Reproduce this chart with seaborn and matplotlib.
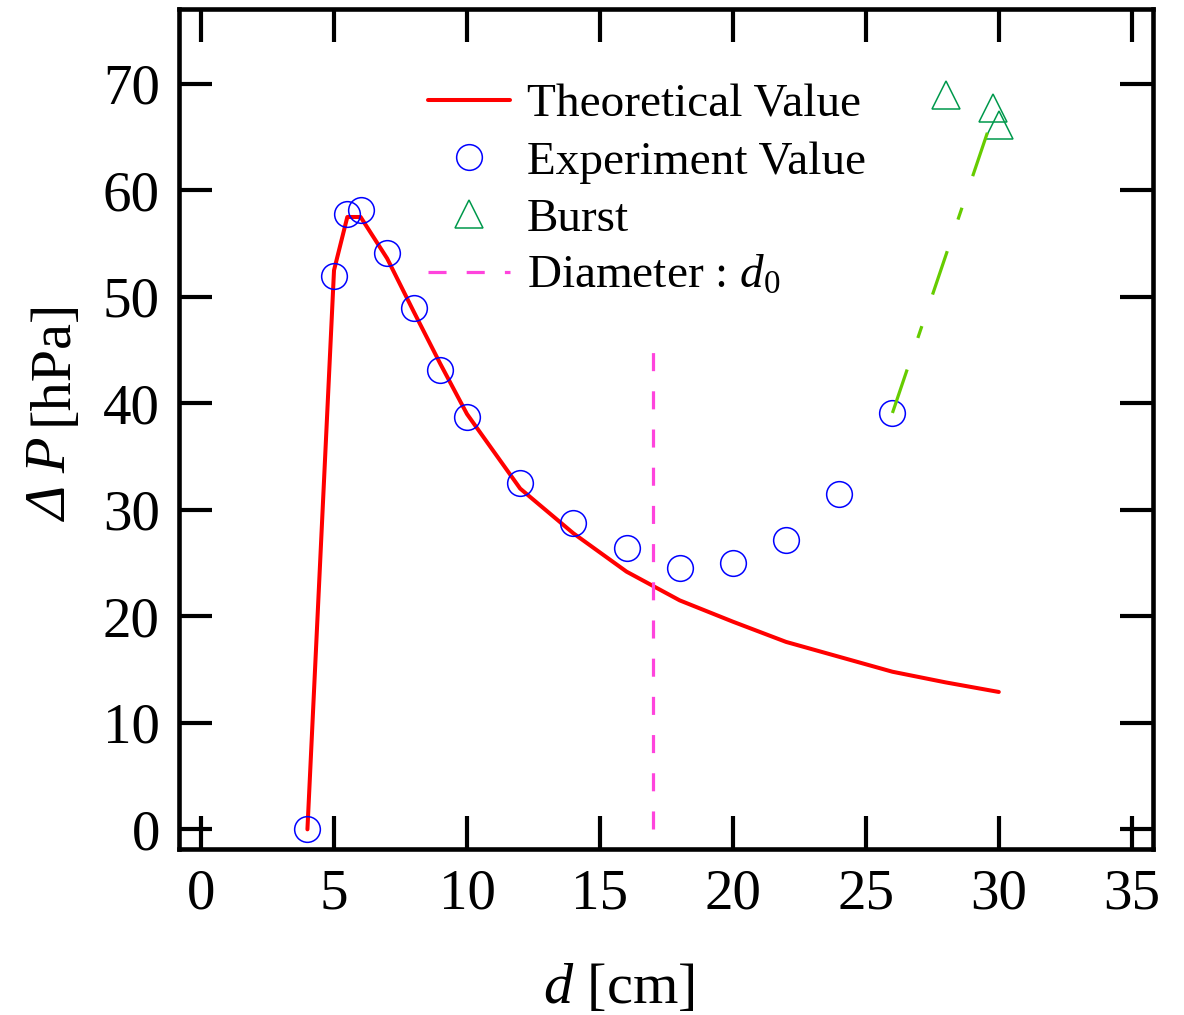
import numpy as np
import pandas as pd
import matplotlib
matplotlib.use("Agg")
import matplotlib.pyplot as plt
import seaborn as sns

# data
d_theory = [4, 5, 5.5, 6, 7, 8, 9, 10, 12, 14, 16, 18, 20, 22, 24, 26, 28, 30]
dp_theory = [0, 52.5, 57.5, 57.5, 53.6, 48.6, 43.7, 39.0, 32.0, 27.8, 24.2,
             21.5, 19.5, 17.6, 16.2, 14.8, 13.8, 12.9]

d_exp = [4, 5, 5.5, 6, 7, 8, 9, 10, 12, 14, 16, 18, 20, 22, 24, 26]
dp_exp = [0, 52.0, 57.8, 58.2, 54.1, 49.0, 43.1, 38.7, 32.5, 28.8, 26.4,
          24.5, 25.0, 27.2, 31.5, 39.1]

d_burst = [28.0, 29.8, 30.0]
dp_burst = [69.0, 67.7, 66.1]

d_trend = [26.0, 29.65]
dp_trend = [39.1, 66.0]

d0 = 17
d0_span = [0, 45]

sns.set_style("ticks")
plt.rcParams["font.family"] = ["Liberation Serif", "DejaVu Serif"]
plt.rcParams["mathtext.fontset"] = "custom"
plt.rcParams["mathtext.rm"] = "Liberation Serif"
plt.rcParams["mathtext.it"] = "Liberation Serif:italic"
plt.rcParams["lines.scale_dashes"] = False
for k in ["text.color", "axes.labelcolor", "xtick.color", "ytick.color",
          "axes.edgecolor"]:
    plt.rcParams[k] = "black"

fig = plt.figure(figsize=(11.84, 10.15), dpi=100)
ax = fig.add_axes([0.1514, 0.1635, 0.8220, 0.8273])

sns.lineplot(x=d_theory, y=dp_theory, color="#ff0000", lw=2.9,
             errorbar=None, sort=False, ax=ax, label="Theoretical Value")
sns.lineplot(x=d_exp, y=dp_exp, color="#0000ff", linestyle="", marker="o",
             markersize=18.5, markerfacecolor="none", mec="#0000ff", mew=1.1,
             errorbar=None, ax=ax, label="Experiment Value")
sns.lineplot(x=d_burst, y=dp_burst, color="#00994c", linestyle="", marker="^",
             markersize=19.5, markerfacecolor="none", mec="#00994c", mew=1.1,
             errorbar=None, ax=ax, label="Burst")
sns.lineplot(x=d_trend, y=dp_trend, color="#66cc00", lw=2.3,
             linestyle=(0, (33, 24, 9, 24)), errorbar=None, ax=ax)
ax.plot([d0, d0], d0_span, color="#ff44dd", lw=2.3,
        linestyle=(0, (13, 14.5)), label=r"Diameter : $\mathit{d_0}$")

lines = ax.get_lines()
handles = [lines[0], lines[1], lines[2], lines[4]]
labels = ["Theoretical Value", "Experiment Value", "Burst",
          r"Diameter : $\mathit{d_0}$"]
ax.legend(handles, labels, loc="upper left",
          bbox_to_anchor=(0.3615, 0.918), bbox_transform=fig.transFigure,
          frameon=False, fontsize=34, handlelength=1.74, handletextpad=0.35,
          labelspacing=0.3, borderpad=0, borderaxespad=0)

ax.set_xlim(-0.82, 35.78)
ax.set_ylim(-1.85, 77)
ax.set_xticks(np.arange(0, 36, 5))
ax.set_yticks(np.arange(0, 71, 10))
ax.tick_params(direction="in", length=24, width=3, top=True, right=True,
               pad=14, labelsize=41, colors="black")
for s in ax.spines.values():
    s.set_linewidth(3.3)
    s.set_color("black")

# axis labels
ax.text(0.4518, -0.1835, r"$\mathit{d}$ [cm]", transform=ax.transAxes,
        ha="center", va="baseline", fontsize=42)
ax.text(-0.1154, 0.4907, "\u0394 P", transform=ax.transAxes, rotation=90,
        rotation_mode="anchor", ha="right", va="baseline", fontsize=42,
        fontstyle="italic")
ax.text(-0.1154, 0.5049, "[hPa]", transform=ax.transAxes, rotation=90,
        rotation_mode="anchor", ha="left", va="baseline", fontsize=42)

fig.savefig("out.png", dpi=100)
